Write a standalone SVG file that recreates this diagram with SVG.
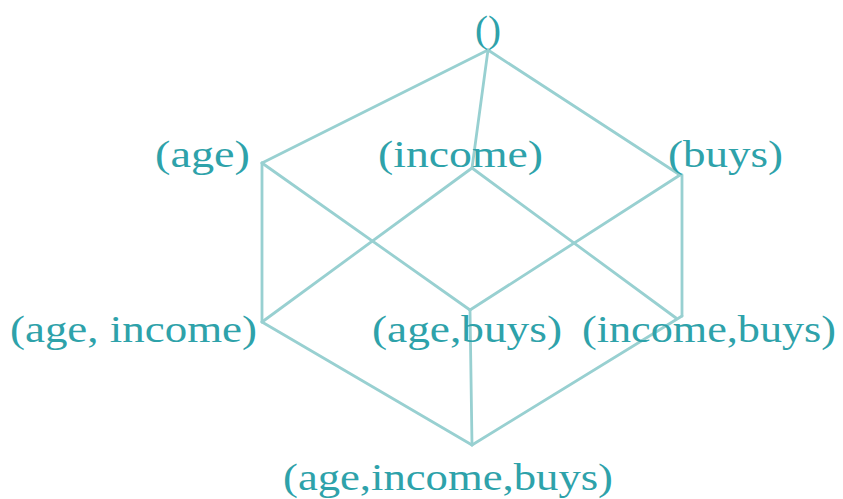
<svg xmlns="http://www.w3.org/2000/svg" width="843" height="499" viewBox="0 0 843 499">
<style>
.e{stroke:#98d0d1;stroke-width:2.8;fill:none;stroke-linecap:round}
text{font-family:"Liberation Serif","Times New Roman",serif;font-size:38px;fill:#2ea2aa}
</style>
<rect width="843" height="499" fill="#fff"/>
<g id="connectors">
<line class="e" x1="488" y1="50" x2="262" y2="163"/>
<line class="e" x1="488" y1="50" x2="472" y2="168"/>
<line class="e" x1="488" y1="50" x2="680" y2="175"/>
<line class="e" x1="262" y1="163" x2="262" y2="322"/>
<line class="e" x1="262" y1="163" x2="470" y2="310"/>
<line class="e" x1="472" y1="168" x2="262" y2="322"/>
<line class="e" x1="472" y1="168" x2="676" y2="318"/>
<line class="e" x1="680" y1="175" x2="470" y2="310"/>
<line class="e" x1="682" y1="175" x2="682" y2="316"/>
<line class="e" x1="262" y1="322" x2="472" y2="445"/>
<line class="e" x1="470" y1="310" x2="472" y2="445"/>
<line class="e" x1="682" y1="316" x2="472" y2="445"/>
</g>
<g id="n0"><text x="475" y="42" textLength="26" lengthAdjust="spacingAndGlyphs">()</text></g>
<g id="n-age"><text x="155" y="167" textLength="95" lengthAdjust="spacingAndGlyphs">(age)</text></g>
<g id="n-income"><text x="378" y="167" textLength="165" lengthAdjust="spacingAndGlyphs">(income)</text></g>
<g id="n-buys"><text x="668" y="167" textLength="115" lengthAdjust="spacingAndGlyphs">(buys)</text></g>
<g id="n-age-income"><text x="10" y="342" textLength="247" lengthAdjust="spacingAndGlyphs">(age, income)</text></g>
<g id="n-age-buys"><text x="372" y="342" textLength="190" lengthAdjust="spacingAndGlyphs">(age,buys)</text></g>
<g id="n-income-buys"><text x="582" y="342" textLength="254" lengthAdjust="spacingAndGlyphs">(income,buys)</text></g>
<g id="n-all"><text x="283" y="490" textLength="330" lengthAdjust="spacingAndGlyphs">(age,income,buys)</text></g>
</svg>
